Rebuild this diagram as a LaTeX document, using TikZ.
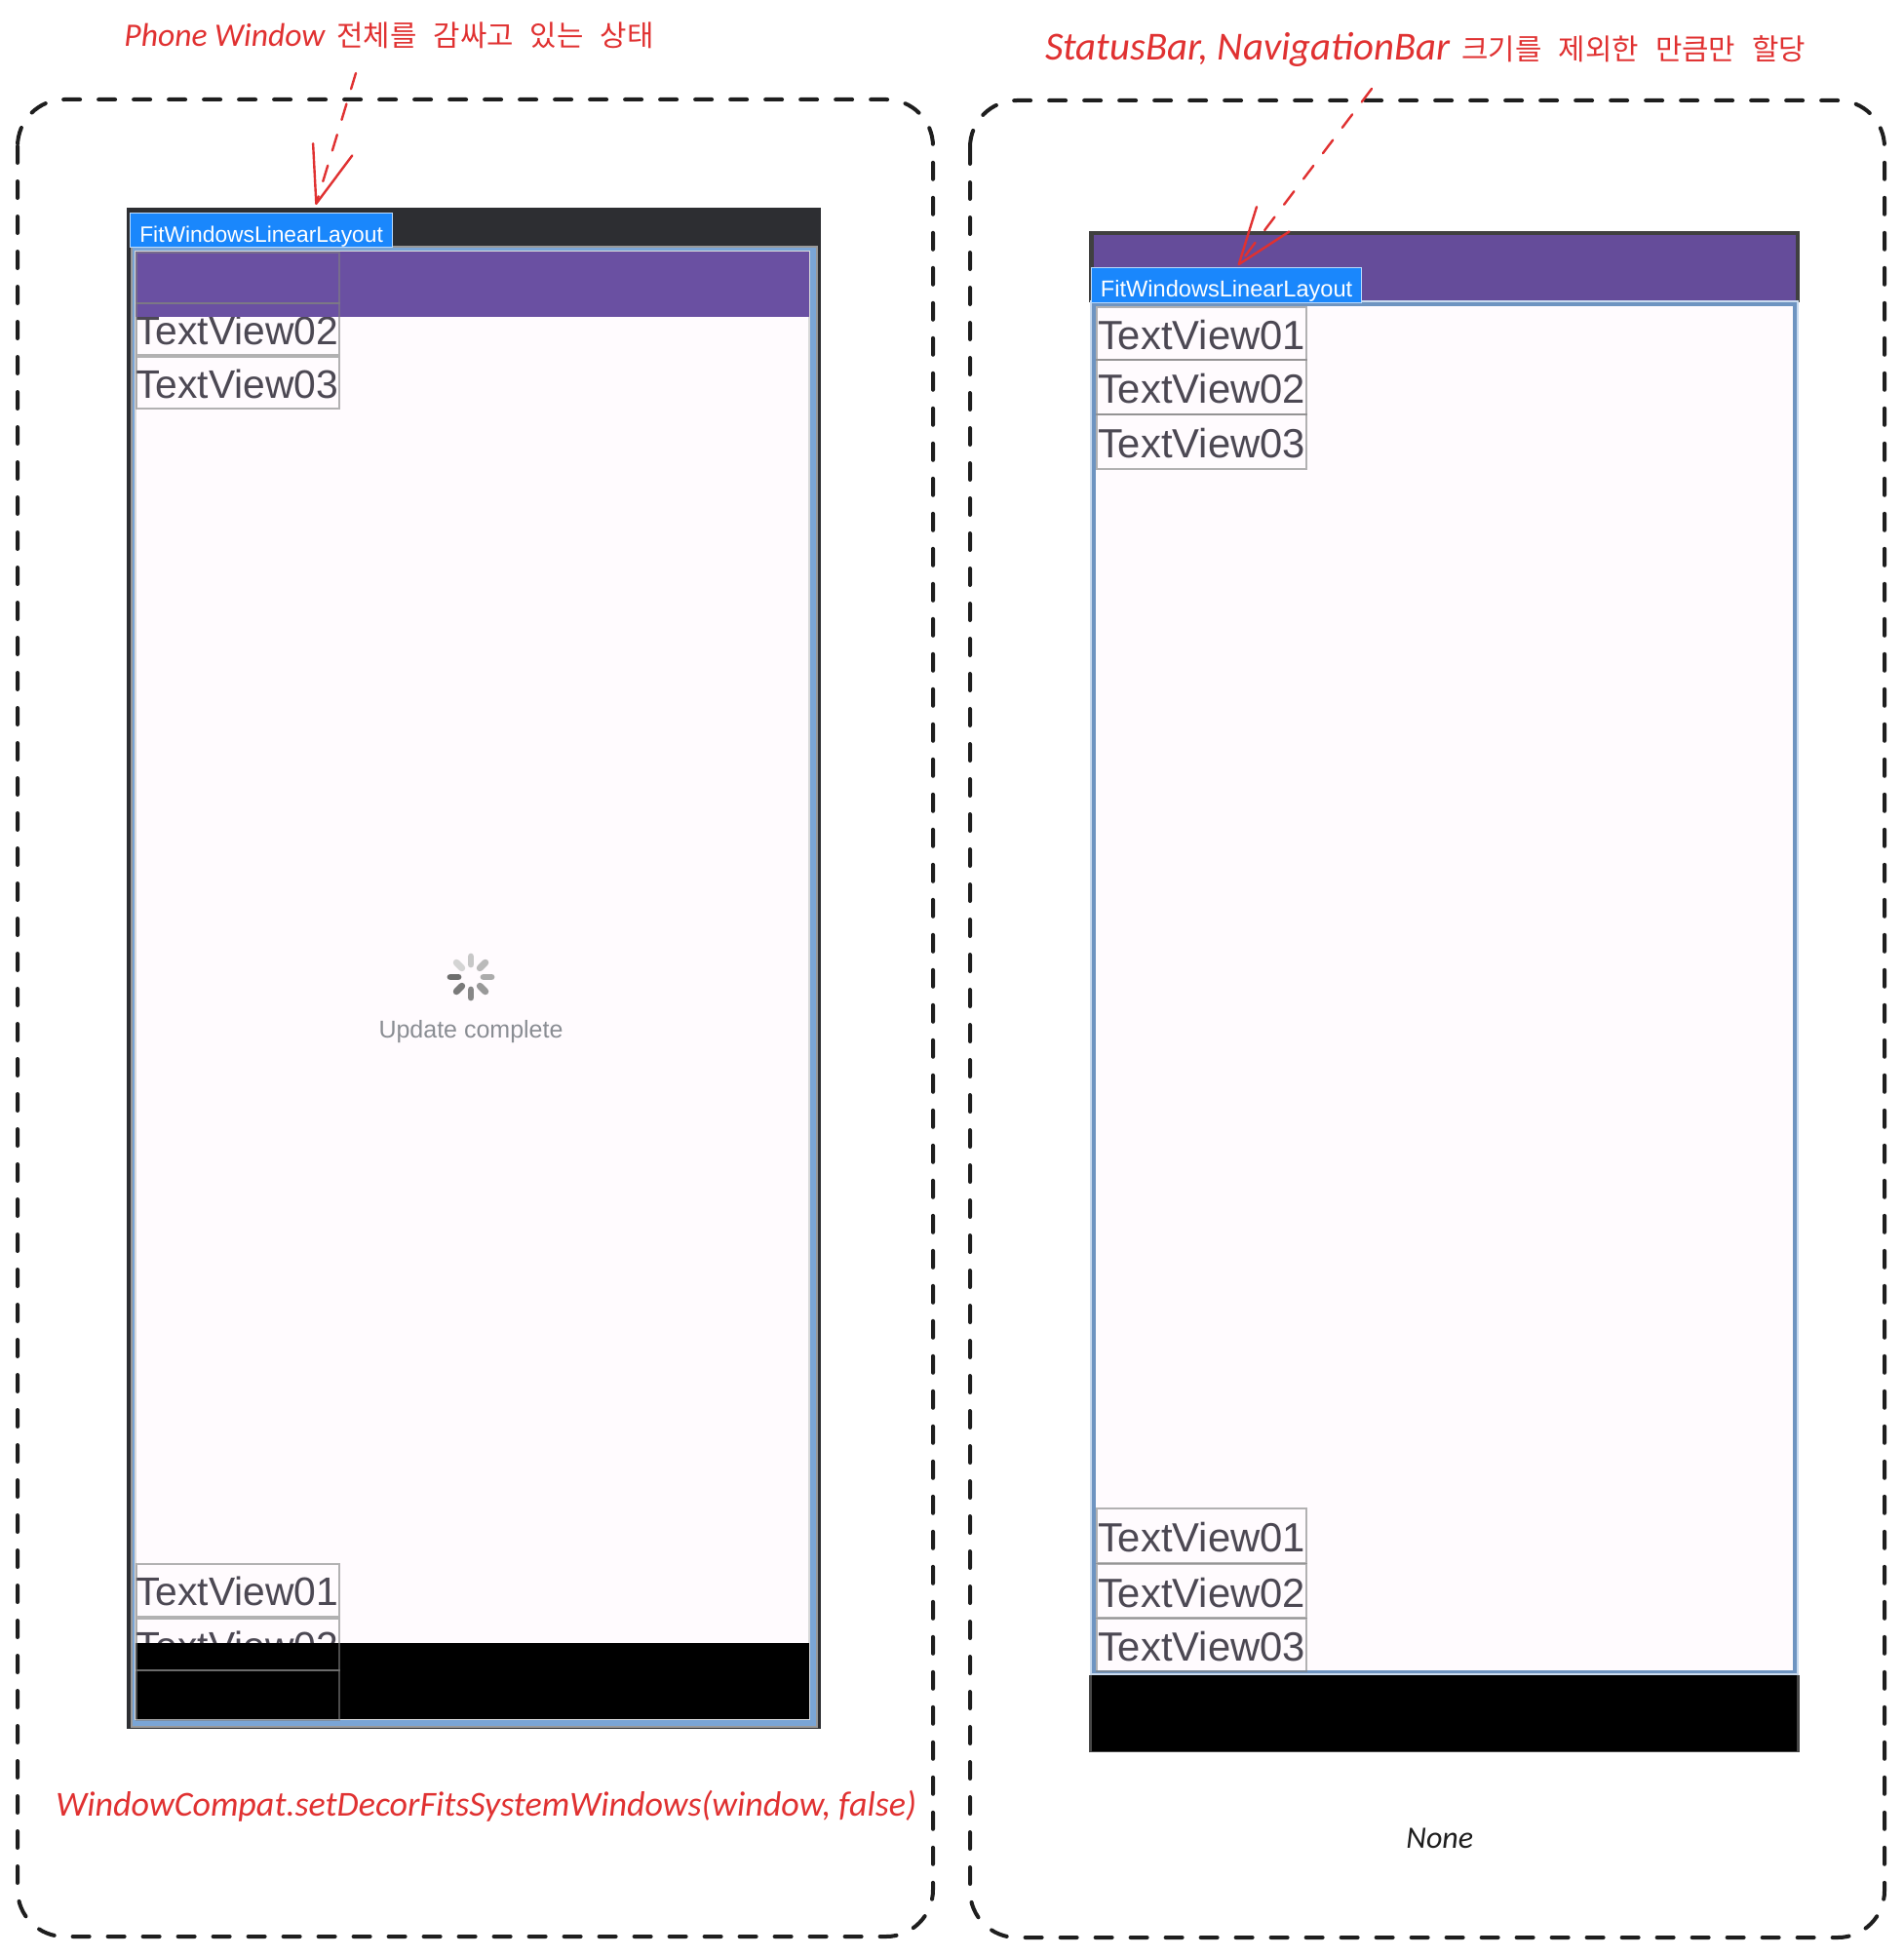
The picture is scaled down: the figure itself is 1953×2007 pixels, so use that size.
\documentclass[tikz,border=0pt]{standalone}
\usepackage{fontspec}
\setmainfont{Liberation Sans}
\newfontfamily\handfont{Carlito}
\newfontfamily\krfont{Noto Sans CJK KR}
\usetikzlibrary{arrows.meta,positioning}
\definecolor{HandRed}{HTML}{e03131}
\definecolor{InkBlack}{HTML}{1e1e1e}
\definecolor{ScreenBg}{HTML}{fffbfe}
\definecolor{BarDark}{HTML}{2d2e32}
\definecolor{FrameBlue}{HTML}{7aa5d6}
\definecolor{TabBlue}{HTML}{1a87fc}
\definecolor{BarPurple}{HTML}{6a50a2}
\definecolor{ViewText}{HTML}{4c4853}
\definecolor{SoftText}{HTML}{8a8d93}
\newcommand{\kr}[1]{{\krfont\fontsize{14.9pt}{16pt}\selectfont #1}}
\newcommand{\kgap}{\hspace*{8.5pt}}
\begin{document}
\begin{tikzpicture}[x=0.5pt,y=-0.5pt,
        dashbox/.style={draw=InkBlack,line width=2pt,rounded corners=24pt,
                        line cap=round,dash pattern=on 8.5pt off 9.5pt},
        tab/.style={anchor=north west,fill=TabBlue,draw=white!70!TabBlue,line width=0.6pt,
                    text=white,inner sep=0pt,text height=12.2pt,text depth=0.2pt},
        viewtext/.style={anchor=north west,inner sep=0pt,text=ViewText,
                         text height=17.5pt,text depth=1pt},
        viewbox/.style={anchor=north west,inner sep=0pt,draw=gray,draw opacity=0.6,line width=1pt},
        hand/.style={anchor=base west,inner sep=0pt,text=HandRed},
        redarrow/.style={draw=HandRed,line width=1.2pt,line cap=round,
                         dash pattern=on 8.5pt off 8pt,
                         -{Straight Barb[length=29pt,width=21pt,round]}},
        spoke/.style={line width=3.4pt,line cap=round}]
        \useasboundingbox (0,0) rectangle (1953,2007);

        % dashed frames
        \draw[dashbox] (18,102) rectangle (957,1986);
        \draw[dashbox] (995,103) rectangle (1933,1987);

        % left phone
        \fill[BarDark] (130,213) rectangle (842,1773);
        \filldraw[fill=FrameBlue,draw=gray!80,line width=0.6pt] (135,253) rectangle (838,1771);
        \filldraw[fill=ScreenBg,draw=white!70!gray,line width=0.8pt] (139,258) rectangle (830,1763);
        \foreach \nm/\y/\num in {b/310/02,c/365/03,d/1603/01,e/1659/02}{
          \node[viewtext,minimum width=104pt,minimum height=27pt,font=\fontsize{20.4pt}{23pt}\selectfont]
            (textL\nm) at (139,\y) {TextView\num};
        }
        \fill[BarPurple] (139,258) rectangle (830,325);
        \fill[black] (139,1685) rectangle (830,1763);
        \foreach \nm/\y/\h in {a/258/26,b/310/26.5,c/365/26.5,d/1603/27,e/1659/26.5,f/1712/25.5}{
          \node[viewbox,minimum width=104pt,minimum height=\h pt] (frameL\nm) at (139,\y) {};
        }
        \node[tab,minimum width=134.5pt,minimum height=17.5pt,font=\fontsize{11.4pt}{13pt}\selectfont]
          (tabL) at (133,218) {FitWindowsLinearLayout};

        % spinner
        \coordinate (spinner) at (483,1002);
        \begin{scope}[shift={(spinner)}]
          \foreach \a/\lev in {180/57,135/52,90/47,45/40,0/33,-45/27,-90/22,-135/17}{
            \draw[spoke,black!\lev] (\a:13) -- (\a:21);
          }
        \end{scope}
        \node[anchor=base,inner sep=0pt,text=SoftText,font=\fontsize{12.5pt}{15pt}\selectfont]
          (update) at (483,1064) {Update complete};

        % right phone
        \fill[black!75] (1117,237) rectangle (1846,310);
        \fill[BarPurple!95!black] (1122,241) rectangle (1842,308);
        \filldraw[fill=FrameBlue!90!black,draw=white!60!FrameBlue,line width=0.6pt] (1119,309) rectangle (1844,1717);
        \fill[ScreenBg] (1124,314) rectangle (1839,1713);
        \foreach \nm/\y/\h/\num in {a/314/27/01,b/368/28/02,c/424/28/03,d/1546/28/01,e/1603/27.5/02,f/1659/27/03}{
          \node[viewtext,viewbox,text opacity=1,minimum width=107.5pt,minimum height=\h pt,
                font=\fontsize{20.9pt}{23pt}\selectfont]
            (textR\nm) at (1124,\y) {TextView\num};
        }
        \fill[black!72] (1117,1718) rectangle (1846,1797);
        \fill[black] (1120,1718) rectangle (1843,1796);
        \node[tab,minimum width=138.5pt,minimum height=18pt,font=\fontsize{11.8pt}{13pt}\selectfont]
          (tabR) at (1119,274) {FitWindowsLinearLayout};

        % labels
        \node[hand,font=\handfont\itshape\fontsize{16.8pt}{20pt}\selectfont] (phoneNote) at (127,48)
          {Phone Window\hspace*{6pt}\kr{전체를\kgap 감싸고\kgap 있는\kgap 상태}};
        \node[hand,font=\handfont\itshape\fontsize{20.4pt}{24pt}\selectfont] (barNote) at (1072,62)
          {StatusBar, NavigationBar\hspace*{6pt}\kr{크기를\kgap 제외한\kgap 만큼만\kgap 할당}};
        \node[hand,font=\handfont\itshape\fontsize{18pt}{22pt}\selectfont] (codeNote) at (57,1862)
          {WindowCompat.setDecorFitsSystemWindows(window, false)};
        \node[hand,text=InkBlack,font=\handfont\itshape\fontsize{16pt}{20pt}\selectfont] (noneNote) at (1442,1895) {None};

        % arrows
        \coordinate (phoneFrom) at (365,75);
        \coordinate (phoneTo) at (324,210);
        \coordinate (barFrom) at (1407,91);
        \coordinate (barTo) at (1270,272);
        \draw[redarrow] (phoneFrom) -- (phoneTo);
        \draw[redarrow] (barFrom) -- (barTo);
\end{tikzpicture}
\end{document}
